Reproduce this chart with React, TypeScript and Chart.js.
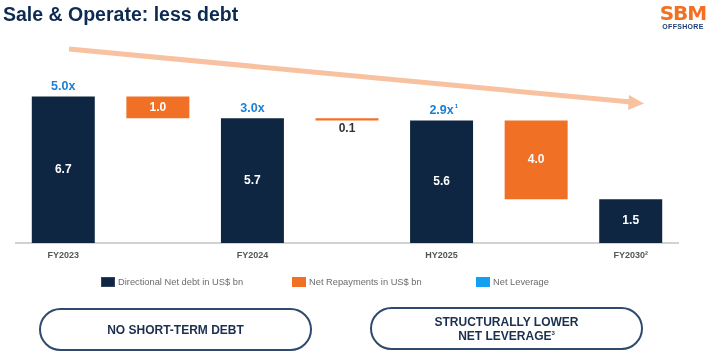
import React, { useEffect, useRef } from "react";
import { Chart, registerables } from "chart.js";

Chart.register(...registerables);

// ---- data ----
const categories = ["FY2023", "", "FY2024", "", "HY2025", "", "FY2030²"];
// drawn height of the navy (net debt) bars
const debtTop = [6.7, null, 5.7, null, 5.6, null, 2.0];
// floating orange (repayment) bars: low / high ends
const repayLow = [null, 5.7, null, 5.6, null, 2.0, null];
const repayHigh = [null, 6.7, null, 5.7, null, 5.6, null];
// printed value labels
const debtLabels = ["6.7", "", "5.7", "", "5.6", "", "1.5"];
const repayLabels = ["", "1.0", "", "0.1", "", "4.0", ""];
// net leverage labels above navy bars
const leverageLabels = ["5.0x", "", "3.0x", "", "2.9x", "", ""];
const leverageNotes = ["", "", "", "", "1", "", ""];
const legendNames = ["Directional Net debt in US$ bn", "Net Repayments in US$ bn", "Net Leverage"];

const NAVY = "#0e2642";
const ORANGE = "#f07125";
const LEV_BLUE = "#1b7fd3";
const LEGEND_BLUE = "#12a0f3";
const FONT = "'Liberation Sans', Arial, sans-serif";

const labelPlugin = {
  id: "valueLabels",
  afterDatasetsDraw(chart: any) {
    const ctx = chart.ctx;
    ctx.save();
    ctx.textAlign = "center";
    ctx.textBaseline = "middle";
    const m0 = chart.getDatasetMeta(0);
    m0.data.forEach((el: any, i: number) => {
      if (debtTop[i] == null) return;
      const p = el.getProps(["x", "y", "base"], true);
      ctx.font = `bold 12px ${FONT}`;
      ctx.fillStyle = "#ffffff";
      ctx.fillText(debtLabels[i], p.x, (p.y + p.base) / 2);
      if (leverageLabels[i]) {
        ctx.font = `bold 12.5px ${FONT}`;
        ctx.fillStyle = LEV_BLUE;
        const t = leverageLabels[i];
        const w = ctx.measureText(t).width;
        ctx.fillText(t, p.x, p.y - 10);
        if (leverageNotes[i]) {
          ctx.font = `bold 6px ${FONT}`;
          ctx.textAlign = "left";
          ctx.fillText(leverageNotes[i], p.x + w / 2 + 1, p.y - 14);
          ctx.textAlign = "center";
        }
      }
    });
    const m1 = chart.getDatasetMeta(1);
    m1.data.forEach((el: any, i: number) => {
      if (repayLow[i] == null) return;
      const p = el.getProps(["x", "y", "base"], true);
      const top = Math.min(p.y, p.base);
      const bot = Math.max(p.y, p.base);
      ctx.font = `bold 12px ${FONT}`;
      if (bot - top < 14) {
        ctx.fillStyle = "#333333";
        ctx.fillText(repayLabels[i], p.x, bot + 8);
      } else {
        ctx.fillStyle = "#ffffff";
        ctx.fillText(repayLabels[i], p.x, (top + bot) / 2);
      }
    });
    ctx.restore();
  },
};

function ChartCanvas() {
  const ref = useRef<HTMLCanvasElement | null>(null);
  useEffect(() => {
    if (!ref.current) return;
    Chart.defaults.font.family = FONT;
    const chart = new Chart(ref.current, {
      type: "bar",
      data: {
        labels: categories,
        datasets: [
          {
            label: legendNames[0],
            data: debtTop as any,
            backgroundColor: NAVY,
            grouped: false,
            categoryPercentage: 1,
            barPercentage: 0.666,
          } as any,
          {
            label: legendNames[1],
            data: repayLow.map((v, i) => (v == null ? null : [v, repayHigh[i]])) as any,
            backgroundColor: ORANGE,
            grouped: false,
            categoryPercentage: 1,
            barPercentage: 0.666,
          } as any,
        ],
      },
      options: {
        responsive: false,
        maintainAspectRatio: false,
        animation: false,
        layout: { padding: { left: 16, right: 31, top: 68, bottom: 32 } },
        plugins: { legend: { display: false }, tooltip: { enabled: false } },
        scales: {
          x: {
            grid: { display: false, drawTicks: false },
            border: { display: true, color: "#d2d2d2", width: 2 },
            ticks: {
              color: "#555555",
              font: { size: 9, weight: "bold" },
              padding: 7,
              autoSkip: false,
              maxRotation: 0,
            },
            afterFit: (s: any) => {
              s.height = 20;
            },
          },
          y: { display: false, min: 0, max: 8 },
        },
      } as any,
      plugins: [labelPlugin],
    });
    return () => chart.destroy();
  }, []);
  return (
    <canvas
      ref={ref}
      width={709}
      height={295}
      style={{ position: "absolute", left: 0, top: 0, width: 709, height: 295 }}
    />
  );
}

const legendColors = [NAVY, ORANGE, LEGEND_BLUE];
const legendX = [101, 292, 476];

export default function App() {
  return (
    <div
      style={{
        position: "fixed",
        left: 0,
        top: 0,
        width: 709,
        height: 359,
        background: "#fff",
        overflow: "hidden",
        fontFamily: FONT,
      }}
    >
      <ChartCanvas />
      <div
        style={{
          position: "absolute",
          left: 3,
          top: 4,
          fontSize: 19.5,
          lineHeight: "20px",
          fontWeight: "bold",
          color: "#0d2a52",
          whiteSpace: "nowrap",
        }}
      >
        Sale &amp; Operate: less debt
      </div>
      <div style={{ position: "absolute", left: 657, top: 3, width: 52, textAlign: "center" }}>
        <div
          style={{
            fontFamily: "'DejaVu Sans', sans-serif",
            fontWeight: 900,
            fontSize: 20,
            lineHeight: "20px",
            color: "#f36f21",
            letterSpacing: -1,
          }}
        >
          SBM
        </div>
        <div style={{ fontSize: 7, lineHeight: "8px", fontWeight: "bold", color: "#1d3d70", letterSpacing: 0.3 }}>
          OFFSHORE
        </div>
      </div>
      <svg width={709} height={359} style={{ position: "absolute", left: 0, top: 0, pointerEvents: "none" }}>
        <line x1={69} y1={49} x2={631} y2={102} stroke="#f8c2a0" strokeWidth={5} />
        <polygon points="629,95 644,103.5 628,110" fill="#f8c2a0" />
      </svg>
      {legendNames.map((n, i) => (
        <div
          key={n}
          style={{
            position: "absolute",
            left: legendX[i],
            top: 276,
            height: 11,
            display: "flex",
            alignItems: "center",
            whiteSpace: "nowrap",
          }}
        >
          <span
            style={{
              display: "inline-block",
              width: 14,
              height: 10,
              background: legendColors[i],
              boxSizing: "border-box",
              border: i === 0 ? "1px solid #33465e" : "none",
              marginRight: 3,
            }}
          />
          <span style={{ fontSize: 9.3, color: "#6b6b6b" }}>{n}</span>
        </div>
      ))}
      <div
        style={{
          position: "absolute",
          left: 39,
          top: 308,
          width: 273,
          height: 43,
          boxSizing: "border-box",
          border: "2px solid #2f4a6c",
          borderRadius: 22,
          display: "flex",
          alignItems: "center",
          justifyContent: "center",
          fontSize: 12,
          fontWeight: "bold",
          color: "#1b2f4e",
        }}
      >
        NO SHORT-TERM DEBT
      </div>
      <div
        style={{
          position: "absolute",
          left: 370,
          top: 307,
          width: 273,
          height: 43,
          boxSizing: "border-box",
          border: "2px solid #2f4a6c",
          borderRadius: 22,
          display: "flex",
          alignItems: "center",
          justifyContent: "center",
          textAlign: "center",
          fontSize: 12,
          lineHeight: "14px",
          fontWeight: "bold",
          color: "#1b2f4e",
        }}
      >
        <div>
          STRUCTURALLY LOWER
          <br />
          NET LEVERAGE<sup style={{ fontSize: 6, verticalAlign: "top", lineHeight: "8px" }}>3</sup>
        </div>
      </div>
    </div>
  );
}
